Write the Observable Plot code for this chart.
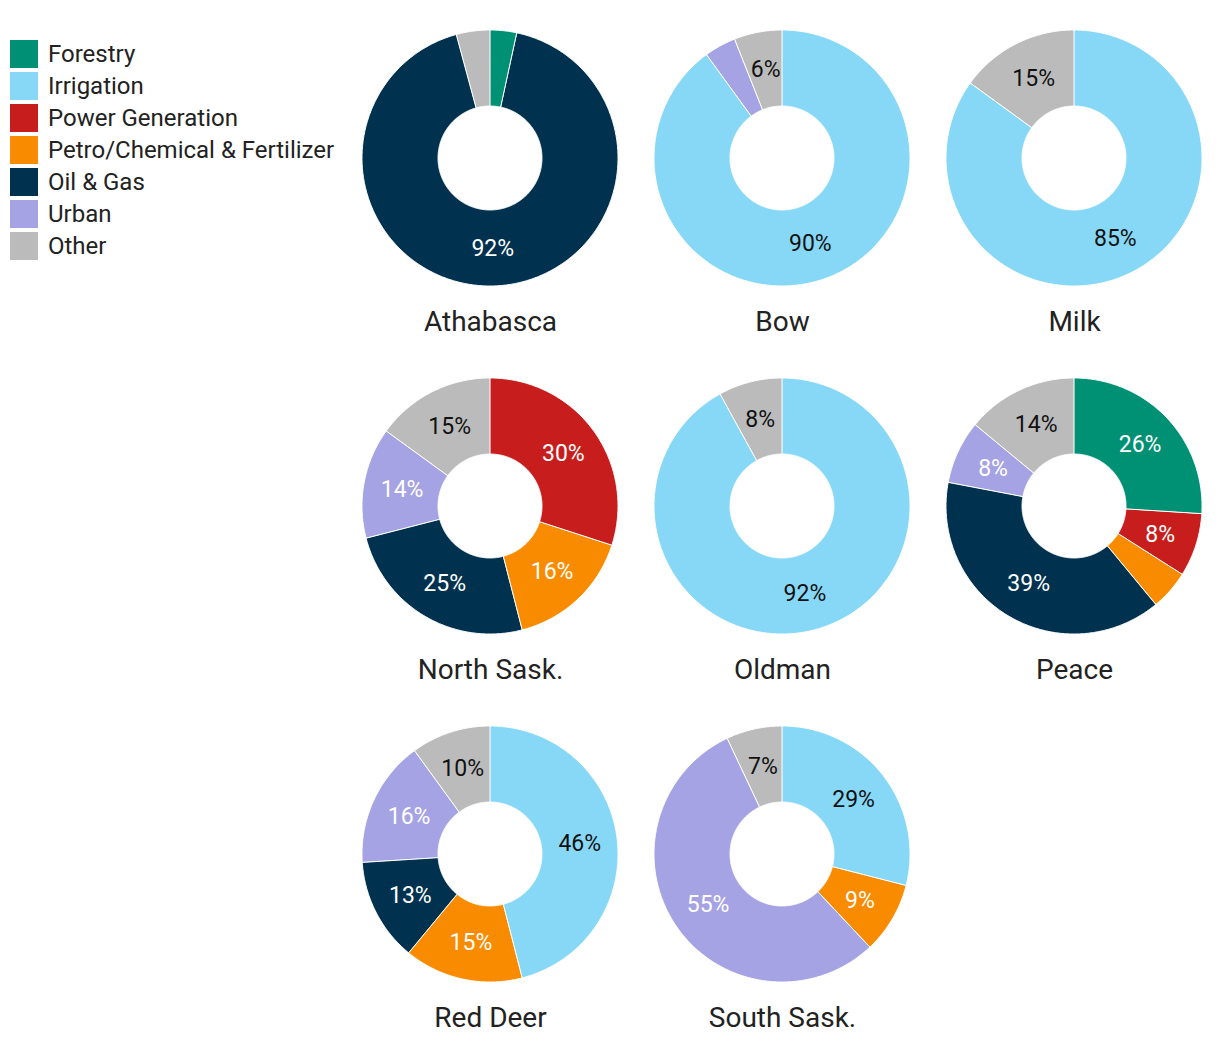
<!DOCTYPE html>
<html>
<head>
<meta charset="utf-8">
<script src="https://cdn.jsdelivr.net/npm/d3@7"></script>
<script src="https://cdn.jsdelivr.net/npm/@observablehq/plot@0.6"></script>
<style>
  html, body { margin: 0; padding: 0; background: #fff; overflow: hidden; }
  #wrap { position: relative; width: 1220px; height: 1062px; font-family: Roboto, sans-serif; }
  #legend { position: absolute; left: 10px; top: 40px; }
  .item { display: flex; align-items: center; height: 28px; margin-bottom: 4px; }
  .sw { width: 28px; height: 28px; margin-right: 10px; flex: none; }
  .lab { font-size: 24px; color: #222; white-space: nowrap; }
  #chart { position: absolute; left: 0; top: 0; }
</style>
</head>
<body>
<div id="wrap"><div id="chart"></div><div id="legend"></div></div>
<script>
const categories = ["Forestry", "Irrigation", "Power Generation", "Petro/Chemical & Fertilizer", "Oil & Gas", "Urban", "Other"];
const colors = ["#009175", "#87d8f7", "#c71e1d", "#f98b00", "#00324f", "#a6a3e4", "#bbbbbb"];
const darkText = ["Irrigation", "Other"];
const basins = ["Athabasca", "Bow", "Milk", "North Sask.", "Oldman", "Peace", "Red Deer", "South Sask."];

// shares (%) per basin, one array per category
const forestry   = [3.4,  0,  0,  0,  0, 26,  0,  0];
const irrigation = [0,   90, 85,  0, 92,  0, 46, 29];
const power      = [0,    0,  0, 30,  0,  8,  0,  0];
const petro      = [0,    0,  0, 16,  0,  5, 15,  9];
const oilGas     = [92.4, 0,  0, 25,  0, 39, 13,  0];
const urban      = [0,    4,  0, 14,  0,  8, 16, 55];
const other      = [4.2,  6, 15, 15,  8, 14, 10,  7];
const series = [forestry, irrigation, power, petro, oilGas, urban, other];

// layout (in units of outer radius)
const R = 128;
const inner = 52 / R;
const colStep = 292 / R, rowStep = 348 / R;
const center = i => ({cx: (i % 3) * colStep, cy: -Math.floor(i / 3) * rowStep});

const arcPts = [];
const labels = [];
basins.forEach((b, i) => {
  const {cx, cy} = center(i);
  const total = d3.sum(series, s => s[i]);
  let cum = 0;
  series.forEach((s, k) => {
    const v = s[i];
    if (!v) return;
    const a0 = 2 * Math.PI * cum / total, a1 = 2 * Math.PI * (cum + v) / total;
    cum += v;
    const n = Math.max(2, Math.ceil((a1 - a0) / 0.01));
    for (let j = 0; j <= n; j++) {
      const a = a0 + (a1 - a0) * j / n;
      arcPts.push({id: b + "|" + categories[k], cat: categories[k],
        x1: cx + Math.sin(a), y1: cy + Math.cos(a),
        x2: cx + inner * Math.sin(a), y2: cy + inner * Math.cos(a)});
    }
    if (v >= 5.5) {
      const am = (a0 + a1) / 2, rm = (1 + inner) / 2;
      labels.push({x: cx + rm * Math.sin(am), y: cy + rm * Math.cos(am),
        text: Math.round(v) + "%", dark: darkText.includes(categories[k])});
    }
  });
});
const titles = basins.map((b, i) => ({b, x: center(i).cx, y: center(i).cy - 164 / R}));

const chart = Plot.plot({
  width: 1220, height: 1062,
  marginTop: 0, marginRight: 0, marginBottom: 0, marginLeft: 0,
  x: {domain: [-490 / R, (1220 - 490) / R], axis: null},
  y: {domain: [-(1062 - 158) / R, 158 / R], axis: null},
  color: {domain: categories, range: colors},
  style: {fontFamily: "Roboto, sans-serif", background: "white"},
  marks: [
    Plot.area(arcPts, {x1: "x1", y1: "y1", x2: "x2", y2: "y2", z: "id", fill: "cat", stroke: "white", strokeWidth: 1}),
    Plot.text(labels.filter(d => d.dark), {x: "x", y: "y", text: "text", fill: "#111", fontSize: 23}),
    Plot.text(labels.filter(d => !d.dark), {x: "x", y: "y", text: "text", fill: "white", fontSize: 23}),
    Plot.text(titles, {x: "x", y: "y", text: "b", fill: "#222", fontSize: 28})
  ]
});
document.getElementById("chart").appendChild(chart);

const legend = document.getElementById("legend");
categories.forEach((c, k) => {
  const it = document.createElement("div");
  it.className = "item";
  it.innerHTML = `<div class="sw" style="background:${colors[k]}"></div><div class="lab">${c.replace("&", "&amp;")}</div>`;
  legend.appendChild(it);
});
</script>
</body>
</html>
